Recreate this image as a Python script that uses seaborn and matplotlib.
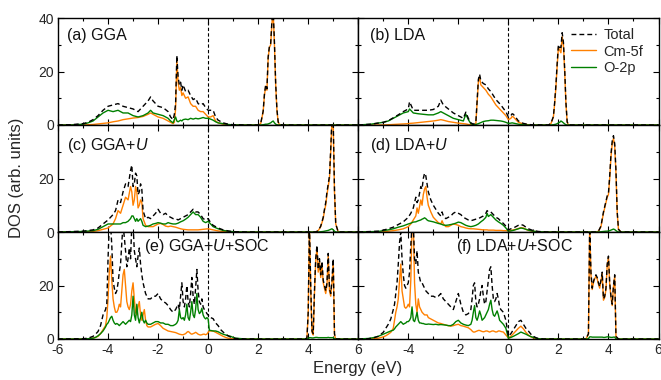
import numpy as np
import pandas as pd
import matplotlib
matplotlib.use('Agg')
import matplotlib.pyplot as plt
import seaborn as sns
from matplotlib.lines import Line2D
from matplotlib.ticker import MultipleLocator

# ---------------- data ----------------
# (a) GGA
E_a = [-6.0, -5.5, -5.0, -4.8, -4.6, -4.4, -4.2, -4.0, -3.8, -3.6,
       -3.4, -3.2, -3.0, -2.8, -2.6, -2.4, -2.3, -2.2, -2.0, -1.8,
       -1.6, -1.5, -1.4, -1.35, -1.3, -1.25, -1.2, -1.15, -1.1, -1.05,
       -1.0, -0.9, -0.8, -0.7, -0.6, -0.5, -0.4, -0.3, -0.2, -0.1,
       0.0, 0.1, 0.2, 0.3, 0.4, 0.6, 0.8, 1.0, 1.5, 2.0,
       2.1, 2.2, 2.25, 2.3, 2.35, 2.4, 2.45, 2.5, 2.55, 2.6,
       2.65, 2.7, 2.75, 2.8, 2.85, 3.0, 6.0]
tot_a = [0, 0.1, 0.5, 1, 2, 3.5, 5.5, 7, 7.5, 8,
         7, 6.5, 6, 5, 7, 9, 10.5, 9, 7, 6.5,
         5, 3, 2, 4, 8, 26, 18, 15, 16, 13,
         15, 12.5, 13, 11, 9.5, 10, 8, 7.5, 8, 6.5,
         5.5, 5.5, 5.5, 3, 1.8, 0.8, 0.3, 0.1, 0, 0,
         0.5, 5.2, 11.5, 15, 13.5, 25.5, 29.5, 30.5, 39, 43,
         31, 15.5, 5.8, 1.2, 0.2, 0, 0]
f5_a = [0, 0, 0, 0.1, 0.2, 0.4, 0.6, 0.8, 1.2, 1.5,
        2, 2.3, 2.6, 2.8, 3.2, 4, 4.5, 4, 3, 2.5,
        1.5, 1, 0.5, 1, 6, 24, 16, 13, 14, 11,
        12, 10, 10.5, 8, 7, 7, 5.5, 5, 5, 4,
        3, 3, 3.5, 1.5, 0.8, 0.3, 0.1, 0, 0, 0,
        0.5, 5, 11, 14.5, 13, 25, 29, 30, 38, 42,
        30, 15, 5.5, 1, 0.2, 0, 0]
p2_a = [0, 0, 0.3, 0.8, 1.5, 3, 4.5, 5.5, 5, 5.5,
        4.5, 4.5, 3.5, 3, 3.5, 4.5, 5.5, 4.5, 4, 3.5,
        2.5, 1.5, 0.8, 2, 3, 1.5, 1.2, 1.5, 1.8, 1.5,
        2, 2.2, 2, 2.5, 2.2, 2.5, 2.3, 2.5, 2.8, 2.5,
        2.5, 2.2, 1.8, 1.2, 0.8, 0.5, 0.2, 0.05, 0, 0,
        0, 0.1, 0.2, 0.3, 0.3, 0.4, 0.6, 0.8, 1.2, 1.5,
        0.8, 0.3, 0.1, 0, 0, 0, 0]

# (b) LDA
E_b = [-6.0, -5.5, -5.0, -4.8, -4.6, -4.4, -4.2, -4.0, -3.95, -3.8,
       -3.6, -3.4, -3.2, -3.0, -2.8, -2.7, -2.6, -2.4, -2.2, -2.0,
       -1.8, -1.7, -1.6, -1.5, -1.4, -1.3, -1.2, -1.15, -1.1, -1.05,
       -1.0, -0.9, -0.8, -0.7, -0.6, -0.5, -0.4, -0.3, -0.2, -0.1,
       0.0, 0.1, 0.15, 0.2, 0.3, 0.4, 0.6, 0.8, 1.0, 1.6,
       1.7, 1.8, 1.85, 1.9, 1.95, 2.0, 2.05, 2.1, 2.15, 2.2,
       2.25, 2.3, 2.35, 2.4, 2.5, 6.0]
tot_b = [0, 0.3, 1, 1.6, 2.7, 3.8, 5, 6, 8.7, 5.5,
         5.5, 5.5, 5.5, 5.8, 7, 9.3, 7.5, 6, 4.5, 3.5,
         2.5, 4.8, 2.5, 0.8, 0.3, 1, 17, 19, 16.5, 16,
         15.5, 15, 13.5, 12.5, 11, 9.5, 8.5, 7.5, 6.2, 5,
         3, 3.5, 4.2, 4, 2.8, 1.5, 0.6, 0.2, 0.05, 0,
         0.6, 3.2, 8.5, 15, 23, 30, 29, 29, 34.5, 31,
         21, 8.5, 1.2, 0.1, 0, 0]
f5_b = [0, 0, 0, 0.1, 0.2, 0.3, 0.4, 0.5, 0.6, 0.7,
        0.9, 1.1, 1.3, 1.5, 1.8, 2, 1.8, 1.3, 1, 0.7,
        0.5, 0.4, 0.2, 0.1, 0.1, 0.5, 16, 18, 15, 14.5,
        14, 13, 11.5, 10.5, 9, 7.5, 6.5, 5.5, 4.5, 3.5,
        2, 2.5, 3.2, 3, 2, 1, 0.4, 0.1, 0, 0,
        0.5, 3, 8, 14, 22, 29, 28, 27, 33, 30,
        20, 8, 1, 0.1, 0, 0]
p2_b = [0, 0.3, 1, 1.5, 2.5, 3.5, 4.5, 5, 6, 4.5,
        4.2, 4, 3.8, 3.8, 4.5, 5, 4.5, 3.5, 2.5, 2,
        1.5, 4, 2, 0.5, 0.1, 0.2, 0.5, 0.7, 0.9, 1.1,
        1.3, 1.5, 1.6, 1.8, 1.8, 1.7, 1.6, 1.5, 1.3, 1.0,
        0.6, 0.7, 0.8, 0.7, 0.5, 0.3, 0.1, 0, 0, 0,
        0, 0.1, 0.2, 0.3, 0.5, 0.8, 1.0, 1.5, 1.2, 0.8,
        0.4, 0.1, 0, 0, 0, 0]

# (c) GGA+U
E_c = [-6.0, -5.0, -4.6, -4.4, -4.2, -4.0, -3.8, -3.7, -3.6, -3.5,
       -3.4, -3.3, -3.2, -3.1, -3.05, -3.0, -2.95, -2.9, -2.85, -2.8,
       -2.75, -2.7, -2.65, -2.6, -2.5, -2.4, -2.3, -2.2, -2.1, -2.0,
       -1.9, -1.8, -1.7, -1.6, -1.5, -1.4, -1.3, -1.2, -1.1, -1.0,
       -0.9, -0.8, -0.7, -0.6, -0.5, -0.4, -0.3, -0.2, -0.1, 0.0,
       0.1, 0.2, 0.4, 0.6, 0.8, 1.0, 1.5, 4.3, 4.4, 4.5,
       4.6, 4.65, 4.7, 4.75, 4.8, 4.85, 4.9, 4.95, 5.0, 5.05,
       5.1, 5.2, 6.0]
tot_c = [0, 0.3, 0.8, 1.5, 3, 4.5, 6.5, 8, 12, 11,
         15, 18, 17, 23, 25, 17, 18, 22, 21, 14,
         15, 18, 16, 8, 5, 5.5, 5, 6, 7, 8.5,
         7, 6.5, 7, 6, 5.5, 5, 5, 4.5, 5, 5.5,
         6, 6.5, 7.5, 8.5, 7.5, 7.5, 6.5, 5, 4.5, 5,
         3.5, 2.5, 1.5, 0.8, 0.4, 0.1, 0, 0, 0.5, 2.2,
         5.5, 8.5, 11, 15, 18, 21, 31, 43, 41, 16,
         3, 0, 0]
f5_c = [0, 0, 0.2, 0.5, 1, 1.5, 3, 5, 8, 7,
        10, 13, 12, 17, 15, 10, 12, 17, 15, 9,
        10, 12, 11, 5, 2.5, 2, 2, 2, 2.5, 3,
        3.2, 2.8, 2.2, 2, 2.2, 2, 1.8, 1.5, 1.2, 1,
        0.9, 0.8, 0.8, 0.8, 0.8, 0.8, 0.9, 1, 1.1, 1.2,
        1, 0.8, 0.4, 0.2, 0.1, 0, 0, 0, 0.5, 2,
        5, 8, 10, 14, 17, 20, 30, 42, 40, 15,
        3, 0, 0]
p2_c = [0, 0.2, 0.5, 1, 2, 3, 3, 3, 3, 3,
        3.5, 3.5, 4, 5, 6, 6, 5, 4, 5, 4,
        4.5, 5, 4, 2.5, 2, 2.2, 2.5, 3, 3.2, 3.5,
        3.3, 3, 3, 3.5, 3.2, 3, 3, 3.3, 3.8, 4.2,
        4.8, 5.5, 6.5, 7.5, 6.5, 6.5, 5.5, 4, 3.5, 4,
        3, 2, 1.2, 0.6, 0.3, 0.1, 0, 0, 0, 0.1,
        0.2, 0.3, 0.4, 0.5, 0.6, 0.8, 1, 1.2, 0.8, 0.3,
        0, 0, 0]

# (d) LDA+U
E_d = [-6.0, -5.2, -5.0, -4.8, -4.6, -4.4, -4.2, -4.0, -3.9, -3.8,
       -3.7, -3.65, -3.6, -3.5, -3.45, -3.4, -3.35, -3.3, -3.25, -3.2,
       -3.1, -3.0, -2.9, -2.8, -2.7, -2.65, -2.6, -2.5, -2.4, -2.3,
       -2.2, -2.1, -2.0, -1.9, -1.8, -1.7, -1.6, -1.5, -1.4, -1.3,
       -1.2, -1.1, -1.0, -0.9, -0.85, -0.8, -0.7, -0.6, -0.5, -0.4,
       -0.3, -0.2, -0.1, 0.0, 0.1, 0.2, 0.3, 0.4, 0.5, 0.6,
       0.7, 0.8, 1.0, 1.2, 1.5, 3.5, 3.6, 3.7, 3.8, 3.9,
       3.95, 4.0, 4.05, 4.1, 4.15, 4.2, 4.25, 4.3, 4.35, 4.4,
       4.5, 6.0]
tot_d = [0, 0.3, 0.7, 1.2, 1.8, 2.8, 3.8, 5.5, 7, 9,
         13, 11, 12, 17, 16, 20, 22, 21, 18, 15,
         12, 10, 8.5, 7, 6, 7.5, 6, 5, 5.5, 6,
         7, 7.5, 7, 6.5, 5.5, 5, 4.5, 4.2, 4.5, 4.8,
         5, 5.5, 6, 7, 8, 7.5, 7.5, 6.5, 5.5, 5,
         4, 3.2, 2.2, 0.8, 1.2, 1.5, 2, 2.5, 2.8, 2.5,
         1.8, 1.2, 0.5, 0.2, 0, 0, 0.3, 2.2, 7.5, 11.5,
         13.5, 14.5, 21, 29, 34, 36, 33, 23, 7.5, 1,
         0, 0]
f5_d = [0, 0, 0.1, 0.3, 0.5, 0.8, 1.2, 2, 3, 4.5,
        6, 9, 7, 12, 10, 14, 16, 17, 13, 10,
        7.5, 5.5, 4.5, 3.5, 3, 4.2, 3, 2, 2, 2.5,
        3, 2.8, 2.5, 2, 1.8, 1.5, 1.3, 1.2, 1.2, 1.1,
        1, 0.9, 0.8, 0.8, 0.8, 0.7, 0.7, 0.7, 0.6, 0.6,
        0.6, 0.5, 0.5, 0.4, 0.6, 0.8, 1, 1.3, 1.6, 1.5,
        1, 0.6, 0.2, 0.05, 0, 0, 0.3, 2, 7, 11,
        13, 14, 20, 28, 33, 35, 32, 22, 7, 1,
        0, 0]
p2_d = [0, 0.2, 0.5, 0.8, 1.2, 1.8, 2.3, 3, 3.3, 3.7,
        3.8, 4, 4.2, 4.5, 4.8, 5, 5.3, 5, 4.5, 4.2,
        4, 3.8, 3.5, 3.2, 3, 2.8, 2.6, 2.5, 2.6, 2.8,
        3, 3.3, 3.7, 3.5, 3, 2.5, 2.2, 2, 2.2, 2.5,
        3, 3.8, 4.5, 5.5, 7, 5.8, 6.5, 5.5, 4.5, 3.8,
        3.2, 2.5, 1.5, 0.3, 0.4, 0.6, 0.9, 1.2, 1.5, 1.3,
        1, 0.7, 0.3, 0.1, 0, 0, 0, 0.1, 0.2, 0.3,
        0.3, 0.4, 0.5, 0.7, 0.9, 1.1, 0.9, 0.5, 0.2, 0,
        0, 0]

# (e) GGA+U+SOC
E_e = [-6.0, -5.0, -4.8, -4.6, -4.5, -4.4, -4.3, -4.2, -4.1, -4.05,
       -4.0, -3.95, -3.9, -3.85, -3.8, -3.75, -3.7, -3.65, -3.6, -3.55,
       -3.5, -3.45, -3.4, -3.35, -3.3, -3.25, -3.2, -3.15, -3.1, -3.05,
       -3.0, -2.95, -2.9, -2.85, -2.8, -2.75, -2.7, -2.65, -2.6, -2.55,
       -2.5, -2.45, -2.4, -2.3, -2.2, -2.1, -2.0, -1.9, -1.8, -1.7,
       -1.6, -1.5, -1.4, -1.3, -1.25, -1.2, -1.15, -1.1, -1.05, -1.0,
       -0.95, -0.9, -0.85, -0.8, -0.75, -0.7, -0.65, -0.6, -0.55, -0.5,
       -0.45, -0.4, -0.35, -0.3, -0.25, -0.2, -0.15, -0.1, -0.05, 0.0,
       0.05, 0.1, 0.2, 0.3, 0.4, 0.5, 0.6, 0.7, 0.8, 0.9,
       1.0, 1.1, 1.5, 3.9, 3.95, 4.0, 4.05, 4.1, 4.15, 4.2,
       4.25, 4.3, 4.35, 4.4, 4.45, 4.5, 4.55, 4.6, 4.65, 4.7,
       4.75, 4.8, 4.85, 4.9, 4.95, 5.0, 5.05, 5.1, 6.0]
tot_e = [0, 0.1, 0.3, 1, 1.8, 2.8, 5, 9, 11, 13,
         30, 43, 43, 35, 22, 19, 17, 18, 21, 25,
         28, 36, 43, 38, 33, 27, 30, 34, 30, 43,
         43, 33, 30, 27, 31, 34, 28, 24, 21, 19,
         17, 16, 15, 15, 16, 16, 17, 15, 14, 13.5,
         12.5, 11, 10, 11, 12, 13, 11, 16, 21, 14,
         12, 15, 20, 14, 12, 17, 23, 16, 13, 19,
         26, 18, 14, 13, 15, 12, 11, 10.5, 9.5, 9,
         8, 8, 7.6, 6, 5, 3.5, 2.6, 1.8, 1.2, 0.7,
         0.4, 0.2, 0, 0, 0.5, 10, 43, 20, 3, 2,
         18, 30, 35, 26, 30, 24, 29, 22, 20, 18,
         21, 32, 19, 17, 22, 30, 2, 0, 0]
f5_e = [0, 0, 0.1, 0.3, 0.6, 1, 2, 3.5, 5, 8,
        15, 25, 31, 22, 15, 12, 10, 10, 11, 13,
        12, 18, 24, 26, 20, 14, 12, 11, 13, 18,
        21, 15, 10, 9, 12, 14, 9, 7, 9, 11,
        7, 5, 4.5, 4.5, 5, 5.5, 5.8, 5, 4, 3.5,
        3, 2.8, 2.6, 2.4, 2.2, 2, 1.8, 1.7, 1.6, 1.6,
        1.8, 2, 2.5, 2.8, 2.5, 2, 1.8, 2, 2.2, 2.5,
        2.2, 1.8, 1.6, 1.5, 1.6, 1.8, 1.8, 1.6, 1.8, 2.5,
        3, 3, 3, 2.5, 2, 1.5, 1, 0.6, 0.3, 0.15,
        0.05, 0, 0, 0, 0.4, 9.5, 42, 19, 2.5, 1.5,
        17, 29, 34, 25, 29, 23, 28, 21, 19, 17,
        20, 31, 18, 16, 21, 29, 1.5, 0, 0]
p2_e = [0, 0, 0.1, 0.3, 0.6, 1.2, 2, 3, 4.5, 5.5,
        6, 7, 8, 8.5, 7, 6, 5.5, 5.8, 5.5, 5,
        5.5, 6, 6.5, 6, 5.5, 6, 6.5, 7, 6.5, 9,
        16, 9, 7, 13, 8, 6, 8, 10, 7, 6,
        7, 6, 5.5, 5.5, 6, 6.5, 6.5, 6, 6, 5.5,
        5.5, 5, 5, 5.5, 6, 7, 11, 8, 7.5, 8,
        7, 9, 13, 8, 7, 10, 14, 9, 8, 11,
        17, 11, 9.5, 10, 11.5, 9, 8, 7.5, 8, 7.5,
        3.3, 3.2, 3, 3, 2.7, 2.2, 1.8, 1.5, 1.2, 1,
        0.6, 0.3, 0, 0, 0, 0.2, 0.5, 0.5, 0.4, 0.4,
        0.5, 0.6, 0.6, 0.5, 0.5, 0.5, 0.5, 0.5, 0.5, 0.5,
        0.5, 0.6, 0.5, 0.5, 0.5, 0.5, 0.1, 0, 0]

# (f) LDA+U+SOC
E_f = [-6.0, -5.6, -5.4, -5.2, -5.0, -4.9, -4.8, -4.7, -4.6, -4.55,
       -4.5, -4.45, -4.4, -4.35, -4.3, -4.25, -4.2, -4.15, -4.1, -4.05,
       -4.0, -3.95, -3.9, -3.85, -3.8, -3.75, -3.7, -3.65, -3.6, -3.55,
       -3.5, -3.45, -3.4, -3.35, -3.3, -3.25, -3.2, -3.1, -3.0, -2.9,
       -2.8, -2.7, -2.6, -2.5, -2.4, -2.3, -2.2, -2.1, -2.0, -1.9,
       -1.8, -1.7, -1.6, -1.5, -1.45, -1.4, -1.35, -1.3, -1.25, -1.2,
       -1.15, -1.1, -1.05, -1.0, -0.95, -0.9, -0.85, -0.8, -0.75, -0.7,
       -0.65, -0.6, -0.55, -0.5, -0.45, -0.4, -0.35, -0.3, -0.2, -0.1,
       0.0, 0.1, 0.2, 0.3, 0.4, 0.5, 0.6, 0.7, 0.8, 0.9,
       1.0, 1.1, 1.2, 1.4, 3.1, 3.2, 3.25, 3.3, 3.35, 3.4,
       3.45, 3.5, 3.55, 3.6, 3.65, 3.7, 3.75, 3.8, 3.85, 3.9,
       3.95, 4.0, 4.05, 4.1, 4.15, 4.2, 4.25, 4.3, 4.4, 6.0]
tot_f = [0, 0.1, 0.4, 1, 2.5, 4, 5.5, 7.5, 11, 13,
         17, 21, 28, 36, 40, 30, 24, 20, 19, 20,
         21, 25, 35, 43, 43, 30, 28, 33, 25, 23,
         21, 21, 20, 19, 18, 17.5, 17, 16, 16, 15.5,
         16, 17, 15, 14, 13, 12, 11, 14, 17, 13,
         10, 9, 9.5, 11, 15, 20, 21, 14, 12, 13,
         15, 18, 20, 16, 13, 14, 18, 22, 26, 27,
         20, 15, 14, 15, 17, 15, 12, 11, 10, 7,
         1, 2, 3.5, 5, 6.5, 7, 5.5, 4, 3, 1.8,
         1, 0.5, 0.2, 0, 0, 2, 43, 25, 19, 21.5,
         23, 24, 23, 21, 19.6, 22, 25, 15, 16, 19,
         28, 31, 21, 16, 13, 20, 24, 1, 0, 0]
f5_f = [0, 0, 0.1, 0.3, 0.8, 1.2, 1.8, 2.5, 4, 7,
        10, 12, 15, 22, 28, 18, 15, 12, 11.5, 12,
        13, 12, 22, 43, 43, 21, 13, 10, 15, 12,
        11, 10, 9.5, 9, 9, 9, 8, 7.5, 7, 6.5,
        6, 5.8, 5.5, 5.2, 5, 4.8, 5, 5.3, 5.5, 5,
        4.8, 4.5, 4.2, 3.5, 3, 2.6, 2.6, 2.8, 3, 3.2,
        3.2, 3, 2.8, 2.7, 2.8, 3, 3, 2.8, 2.6, 2.8,
        3, 3, 2.8, 2.6, 2.7, 3, 3, 2.8, 2.6, 1.5,
        0.4, 1, 2, 3, 4, 4.8, 3.8, 2.5, 1.5, 0.8,
        0.4, 0.2, 0.05, 0, 0, 1.8, 42, 24, 18.5, 21,
        22.5, 23.5, 22.5, 20.5, 19, 21.5, 24.5, 14.5, 15.5, 18.5,
        27.5, 30.5, 20.5, 15.5, 12.5, 19.5, 23.5, 0.8, 0, 0]
p2_f = [0, 0.2, 0.5, 1, 1.8, 2.2, 2.6, 3, 3.3, 3.8,
        4.5, 5, 5.5, 6, 6.5, 6, 5.5, 5.8, 6, 6.5,
        6.5, 7, 8, 12, 7, 6.5, 8, 10, 7, 6,
        6, 5.8, 5.8, 5.6, 5.5, 5.5, 5.6, 5.5, 5.4, 5.5,
        5.3, 5.4, 5.3, 5.2, 5, 5, 5.5, 6.5, 7, 6,
        5.5, 5.2, 5, 5.5, 7, 10, 12.5, 8, 7, 8.5,
        10.5, 9, 7, 7.5, 8, 9, 10, 11, 13, 14.5,
        11, 9, 8.5, 9.5, 10.5, 9, 7, 6.5, 5.5, 4,
        0.3, 0.6, 1, 1.5, 2, 2.6, 2.2, 1.8, 1.3, 0.9,
        0.6, 0.3, 0.1, 0, 0, 0.1, 0.8, 0.8, 0.7, 0.7,
        0.7, 0.7, 0.7, 0.7, 0.7, 0.7, 0.7, 0.6, 0.6, 0.7,
        0.8, 0.8, 0.7, 0.6, 0.6, 0.7, 0.7, 0.1, 0, 0]

panel_labels = ['(a) GGA', '(b) LDA', r'(c) GGA+$U$', r'(d) LDA+$U$',
                r'(e) GGA+$U$+SOC', r'(f) LDA+$U$+SOC']
series_names = ['Total', 'Cm-5f', 'O-2p']
x_ticks = [-6, -4, -2, 0, 2, 4, 6]
y_ticks = [0, 20, 40]

# ---------------- style ----------------
sns.set_style('ticks')
plt.rcParams['font.family'] = ['Liberation Sans', 'DejaVu Sans']
plt.rcParams['axes.unicode_minus'] = False
plt.rcParams['mathtext.fontset'] = 'custom'
plt.rcParams['mathtext.rm'] = 'Liberation Sans'
plt.rcParams['mathtext.it'] = 'Liberation Sans:italic'

ORANGE = '#ff8000'
GREEN = '#008000'
palette = {'Total': 'black', 'Cm-5f': ORANGE, 'O-2p': GREEN}
dashes = {'Total': (3.5, 2.2), 'Cm-5f': '', 'O-2p': ''}

fig, axes = plt.subplots(3, 2, figsize=(6.61, 3.80), dpi=100)
fig.subplots_adjust(left=58 / 661, right=658.5 / 661, top=1 - 18 / 380,
                    bottom=1 - 339 / 380, wspace=0, hspace=0)

panels = [(E_a, tot_a, f5_a, p2_a), (E_b, tot_b, f5_b, p2_b),
          (E_c, tot_c, f5_c, p2_c), (E_d, tot_d, f5_d, p2_d),
          (E_e, tot_e, f5_e, p2_e), (E_f, tot_f, f5_f, p2_f)]

label_pos = [(0.03, 0.84), (0.04, 0.84), (0.03, 0.81), (0.04, 0.81),
             (0.285, 0.86), (0.325, 0.86)]

for i, (E, tot, f5, p2) in enumerate(panels):
    r, c = divmod(i, 2)
    ax = axes[r, c]
    df = pd.DataFrame({'E': E, 'Total': tot, 'Cm-5f': f5, 'O-2p': p2})
    long = df.melt(id_vars='E', var_name='kind', value_name='DOS')
    sns.lineplot(data=long, x='E', y='DOS', hue='kind', style='kind',
                 hue_order=['Cm-5f', 'O-2p', 'Total'],
                 style_order=['Cm-5f', 'O-2p', 'Total'],
                 palette=palette, dashes=dashes, estimator=None,
                 linewidth=1.0, ax=ax, legend=False)
    ax.axvline(0, color='black', ls=(0, (3, 2)), lw=0.8, zorder=1)
    ax.set_xlim(-6, 6)
    ax.set_ylim(0, 40)
    ax.set_xlabel('')
    ax.set_ylabel('')
    ax.set_xticks(x_ticks)
    ax.set_yticks(y_ticks)
    ax.xaxis.set_minor_locator(MultipleLocator(1))
    ax.yaxis.set_minor_locator(MultipleLocator(10))
    ax.tick_params(which='both', direction='in', top=True, right=True,
                   color='black', width=0.8, labelsize=10, pad=3)
    ax.tick_params(which='major', length=4)
    ax.tick_params(which='minor', length=2)
    for s in ax.spines.values():
        s.set_linewidth(1.0)
        s.set_color('black')
    if c == 0:
        ylabs = [str(v) for v in y_ticks]
        if r > 0:
            ylabs[-1] = ''
        ax.set_yticklabels(ylabs)
    else:
        ax.tick_params(labelleft=False)
    if r == 2:
        xlabs = [str(v) for v in x_ticks]
        if c == 1:
            xlabs[0] = ''
        ax.set_xticklabels(xlabs)
    else:
        ax.tick_params(labelbottom=False)
    lx, ly = label_pos[i]
    ax.text(lx, ly, panel_labels[i], transform=ax.transAxes, fontsize=11.5,
            ha='left', va='center', color='#111111')

handles = [Line2D([], [], color='black', ls=(0, (3.5, 2.2)), lw=1.0),
           Line2D([], [], color=ORANGE, lw=1.0),
           Line2D([], [], color=GREEN, lw=1.0)]
axes[0, 1].legend(handles, series_names, loc='upper right',
                  bbox_to_anchor=(0.96, 0.93), frameon=False, fontsize=10.5,
                  handlelength=1.7, handletextpad=0.55, labelspacing=0.15,
                  borderaxespad=0, borderpad=0.2)

fig.text(358 / 661, 1 - 368 / 380, 'Energy (eV)', ha='center', va='center',
         fontsize=12)
fig.text(17 / 661, 1 - 178 / 380, 'DOS (arb. units)', ha='center',
         va='center', rotation=90, fontsize=12)

fig.savefig('out.png', dpi=100)
